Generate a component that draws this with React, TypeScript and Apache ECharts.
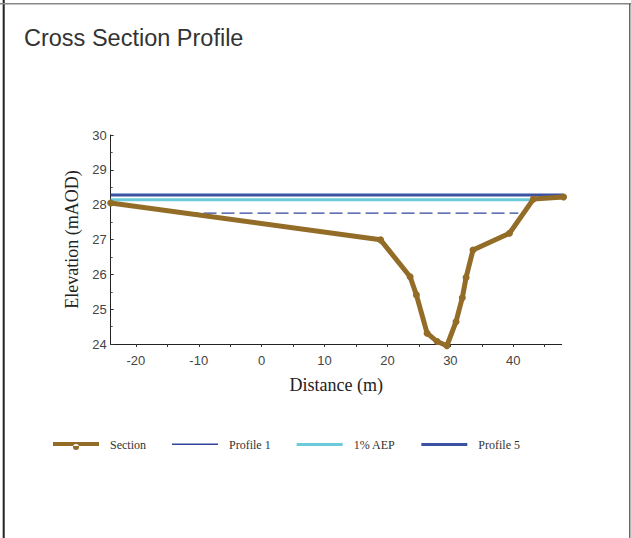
import React, { useEffect, useRef } from "react";
import * as echarts from "echarts";

const sectionX = [-24, 18.9, 23.6, 24.6, 26.3, 27.9, 29.45, 30.9, 31.9, 32.5, 33.6, 39.4, 43.2, 48.0];
const sectionY = [28.05, 26.99, 25.93, 25.41, 24.31, 24.07, 23.95, 24.64, 25.33, 25.91, 26.7, 27.18, 28.16, 28.22];

const profile1X = [-12.1, 40.8];
const profile1Y = [27.76, 27.76];

const aepX = [-24, 43.2];
const aepY = [28.14, 28.14];

const profile5X = [-24, 48.0];
const profile5Y = [28.28, 28.28];

const xMin = -24;
const xMax = 47.7;
const yMin = 24;
const yMax = 30;

const legendNames = ["Section", "Profile 1", "1% AEP", "Profile 5"];

const zip = (xs: number[], ys: number[]) => xs.map((x, i) => [x, ys[i]]);

export default function App() {
  const ref = useRef<HTMLDivElement>(null);
  useEffect(() => {
    if (!ref.current) return;
    const chart = echarts.init(ref.current, null, { renderer: "svg" });
    const serif = "'Liberation Serif', 'Times New Roman', serif";
    const sans = "'Liberation Sans', Arial, sans-serif";
    const icons: Record<string, string> = {
      Section: "path://M0,0h46v0.01h-46z M0,3h46v4h-46z M20,8a3,3 0 1,0 6,0a3,3 0 1,0 -6,0",
      "Profile 1": "path://M0,0h46v0.01h-46z M0,5.5h46v1.5h-46z M0,13h46v0.01h-46z",
      "1% AEP": "path://M0,0h46v0.01h-46z M0,5h46v3h-46z M0,13h46v0.01h-46z",
      "Profile 5": "path://M0,0h46v0.01h-46z M0,5h46v3h-46z M0,13h46v0.01h-46z",
    };
    chart.setOption({
      animation: false,
      backgroundColor: "#ffffff",
      title: {
        text: "Cross Section Profile",
        left: 19,
        top: 21,
        textStyle: { fontFamily: sans, fontSize: 23.5, fontWeight: "normal", color: "#333333" },
      },
      graphic: [
        { type: "line", shape: { x1: 3.7, y1: 0, x2: 3.7, y2: 538 }, style: { stroke: "#222222", lineWidth: 2 } },
        { type: "line", shape: { x1: 0, y1: 3.7, x2: 631, y2: 3.7 }, style: { stroke: "#888888", lineWidth: 1.5 } },
        { type: "line", shape: { x1: 629.8, y1: 3.7, x2: 629.8, y2: 538 }, style: { stroke: "#444444", lineWidth: 1.2 } },
      ],
      grid: { left: 110.7, right: 69.3, top: 135, bottom: 194, containLabel: false },
      xAxis: {
        type: "value",
        min: xMin,
        max: xMax,
        splitNumber: 14,
        name: "Distance (m)",
        nameLocation: "middle",
        nameGap: 32,
        nameTextStyle: { fontFamily: serif, fontSize: 18, color: "#222222" },
        axisLine: { show: true, onZero: false, lineStyle: { color: "#222222", width: 1 } },
        axisTick: { show: true, inside: false, length: 3, lineStyle: { color: "#333333" } },
        splitLine: { show: false },
        axisLabel: {
          margin: 10,
          fontFamily: sans,
          fontSize: 13,
          color: "#444444",
          showMinLabel: false,
          showMaxLabel: false,
          formatter: (v: number) => (Math.abs(v % 10) < 1e-6 ? String(Math.round(v)) : ""),
        },
      },
      yAxis: {
        type: "value",
        min: yMin,
        max: yMax,
        interval: 1,
        name: "Elevation (mAOD)",
        nameLocation: "middle",
        nameGap: 30,
        nameTextStyle: { fontFamily: serif, fontSize: 18, color: "#222222" },
        axisLine: { show: true, onZero: false, lineStyle: { color: "#222222", width: 1 } },
        axisTick: { show: true, inside: true, length: 3, lineStyle: { color: "#333333" } },
        minorTick: { show: true, splitNumber: 2, length: 2, lineStyle: { color: "#555555" } },
        splitLine: { show: false },
        axisLabel: { margin: 4, fontFamily: sans, fontSize: 13, color: "#444444" },
      },
      legend: {
        left: 48,
        top: 433,
        itemWidth: 46,
        itemHeight: 14,
        itemGap: 26,
        symbolKeepAspect: true,
        textStyle: { fontFamily: serif, fontSize: 12, color: "#333333", padding: [0, 0, 0, 6] },
        data: legendNames.map((n) => ({ name: n, icon: icons[n] })),
      },
      series: [
        {
          name: "Profile 1",
          type: "line",
          data: zip(profile1X, profile1Y),
          showSymbol: false,
          symbol: "none",
          clip: false,
          z: 2,
          lineStyle: { color: "#2f4699", width: 1.2, type: [13, 5] },
          itemStyle: { color: "#2f4699" },
        },
        {
          name: "1% AEP",
          type: "line",
          data: zip(aepX, aepY),
          showSymbol: false,
          symbol: "none",
          clip: false,
          z: 2,
          lineStyle: { color: "#6ccbdb", width: 3 },
          itemStyle: { color: "#6ccbdb" },
        },
        {
          name: "Profile 5",
          type: "line",
          data: zip(profile5X, profile5Y),
          showSymbol: false,
          symbol: "none",
          clip: false,
          z: 2,
          lineStyle: { color: "#3a52a3", width: 3 },
          itemStyle: { color: "#3a52a3" },
        },
        {
          name: "Section",
          type: "line",
          data: zip(sectionX, sectionY),
          symbol: "circle",
          symbolSize: 7,
          showSymbol: true,
          clip: false,
          z: 3,
          lineStyle: { color: "#936c28", width: 5 },
          itemStyle: { color: "#936c28" },
        },
      ],
    });
    return () => chart.dispose();
  }, []);
  return (
    <div
      ref={ref}
      style={{ position: "fixed", left: 0, top: 0, width: 631, height: 538, background: "#fff" }}
    />
  );
}
